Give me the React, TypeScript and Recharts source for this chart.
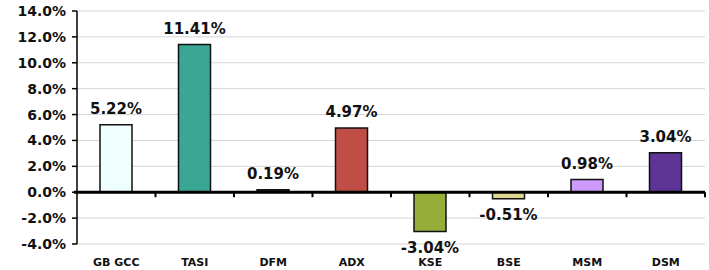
import {
  BarChart,
  Bar,
  XAxis,
  YAxis,
  CartesianGrid,
  ReferenceLine,
  LabelList,
  Cell,
} from "recharts";

const markets = ["GB GCC", "TASI", "DFM", "ADX", "KSE", "BSE", "MSM", "DSM"];
const changes = [5.22, 11.41, 0.19, 4.97, -3.04, -0.51, 0.98, 3.04];
const barColors = ["#efffff", "#3aa694", "#1c2418", "#c04e44", "#97ad3a", "#dcd690", "#cc9afa", "#5e3597"];
const yTicks = [-4, -2, 0, 2, 4, 6, 8, 10, 12, 14];

const data = markets.map((name, i) => ({ name, value: changes[i] }));

const FONT = "Verdana, 'DejaVu Sans', sans-serif";

function ValueLabel(props: any) {
  const { x, y, width, height, value } = props;
  const top = Math.min(y, y + height);
  const bottom = Math.max(y, y + height);
  const cx = x + width / 2;
  const ty = value >= 0 ? top - 11 : bottom + 21;
  return (
    <text x={cx} y={ty} textAnchor="middle" fontFamily={FONT} fontWeight="bold" fontSize={15} fill="#111">
      {value.toFixed(2) + "%"}
    </text>
  );
}

function ZeroLine(props: any) {
  const { x1, x2, y1 } = props;
  const n = markets.length;
  const step = (x2 - x1) / n;
  const ticks = [];
  for (let i = 1; i <= n; i++) {
    ticks.push(<line key={i} x1={x1 + i * step} x2={x1 + i * step} y1={y1} y2={y1 + 5} stroke="#000" strokeWidth={2} />);
  }
  return (
    <g>
      <line x1={x1 - 3} x2={x2} y1={y1} y2={y1} stroke="#000" strokeWidth={3} />
      {ticks}
    </g>
  );
}

export default function App() {
  return (
    <div style={{ position: "absolute", left: 0, top: 0, width: 709, height: 270, background: "#fff" }}>
      <BarChart
        width={709}
        height={270}
        data={data}
        margin={{ top: 11, right: 4, bottom: 0, left: 0 }}
        barCategoryGap="30%"
      >
        <CartesianGrid vertical={false} stroke="#d4d4d4" strokeWidth={1} />
        <XAxis
          dataKey="name"
          axisLine={false}
          tickLine={false}
          height={26}
          interval={0}
          tick={{ fontFamily: FONT, fontWeight: "bold", fontSize: 11, fill: "#111" }}
          tickMargin={8}
        />
        <YAxis
          domain={[-4, 14]}
          ticks={yTicks}
          width={77}
          interval={0}
          allowDataOverflow
          axisLine={{ stroke: "#000", strokeWidth: 1.5 }}
          tickLine={{ stroke: "#000", strokeWidth: 1.5 }}
          tickSize={5}
          tickMargin={6}
          tickFormatter={(v: number) => v.toFixed(1) + "%"}
          tick={{ fontFamily: FONT, fontWeight: "bold", fontSize: 14, fill: "#111" }}
        />
        <Bar dataKey="value" barSize={32} stroke="#111" strokeWidth={1.5} isAnimationActive={false}>
          {data.map((d, i) => (
            <Cell key={d.name} fill={barColors[i]} />
          ))}
          <LabelList dataKey="value" content={<ValueLabel />} />
        </Bar>
        <ReferenceLine y={0} shape={<ZeroLine />} ifOverflow="visible" />
      </BarChart>
    </div>
  );
}
